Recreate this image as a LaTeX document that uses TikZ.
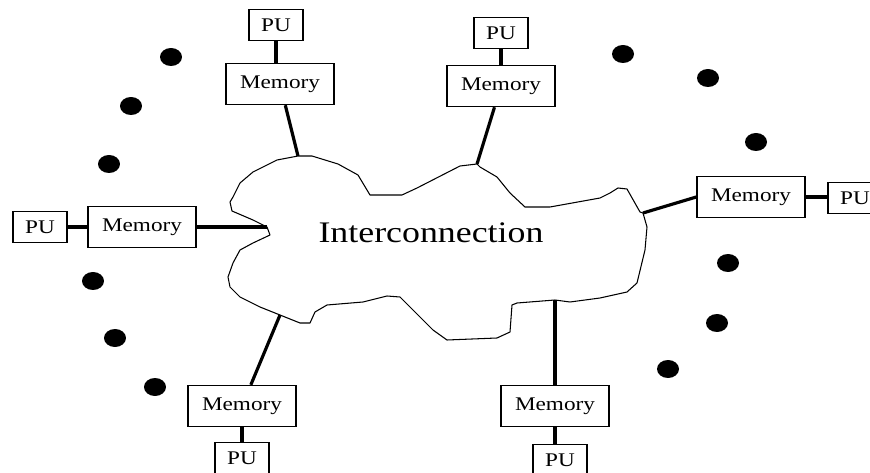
\documentclass[tikz,border=0pt]{standalone}
\usepackage{fontspec}
\setmainfont{Liberation Serif}[FakeStretch=1.2]
\tikzset{
	membox/.style={draw, line width=0.8pt, minimum width=2.16cm, minimum height=0.82cm, inner sep=0pt, font=\fontsize{11}{13}\selectfont},
	pubox/.style={draw, line width=0.8pt, minimum width=1.08cm, minimum height=0.62cm, inner sep=0pt, font=\fontsize{11}{13}\selectfont},
	link/.style={line width=1.8pt},
	cloudline/.style={line width=0.6pt, line join=round},
	blob/.style={fill=black}
}

\begin{document}
\begin{tikzpicture}[x=0.02cm, y=-0.02cm]
			%%%%% START %%%%%
			\useasboundingbox (0,0) rectangle (870,473);
			
			% interconnection cloud
			\draw[cloudline] (298,156) coordinate (ca) -- (312,156) -- (338,164) -- (358,175) -- (370,195)
				-- (402,195) -- (417,188) -- (460,166) -- (477,164) coordinate (cb) -- (480,167) -- (497,177)
				-- (510,193) -- (525,207) -- (550,207) -- (600,198) -- (610,193) -- (618,188) -- (627,189)
				-- (640,212) -- (643,213) coordinate (cd) -- (647,227) -- (645,250) -- (637,283) -- (627,292)
				-- (600,298) -- (570,302) -- (555,300) coordinate (cf) -- (517,303) -- (512,305) -- (510,332)
				-- (497,338) -- (447,340) -- (433,330) -- (413,310) -- (400,297) -- (387,296) -- (363,302)
				-- (327,305) -- (315,312) -- (310,323) -- (300,323) -- (280,315) coordinate (ce) -- (260,307)
				-- (240,297) -- (230,287) -- (228,277) -- (233,263) -- (240,250) -- (253,243) -- (270,235)
				-- (267,227) coordinate (cc) -- (253,220) -- (232,211) -- (230,202) -- (233,197) -- (240,183)
				-- (253,172) -- (277,160) -- cycle;
			\node[anchor=base, font=\fontsize{17}{20}\selectfont] (net) at (431,243) {Interconnection};
			
			% dots
			\foreach \x/\y in {171/57, 131/106, 109/164, 93/281, 115/338, 155/387,
				623/54, 708/78, 756/142, 728/263, 717/323, 668/369}
				\fill[blob] (\x,\y) ellipse [x radius=0.22cm, y radius=0.18cm];
			
			% memories and PUs
			\node[pubox] (pua) at (276,25) {PU};
			\node[membox] (mema) at (280,84) {Memory};
			\node[pubox] (pub) at (501,33) {PU};
			\node[membox] (memb) at (501,86) {Memory};
			\node[pubox] (puc) at (40,227) {PU};
			\node[membox] (memc) at (142,227) {Memory};
			\node[membox] (memd) at (751,197) {Memory};
			\node[pubox] (pud) at (855,198) {PU};
			\node[membox] (meme) at (242,406) {Memory};
			\node[pubox] (pue) at (242,458) {PU};
			\node[membox] (memf) at (555,406) {Memory};
			\node[pubox] (puf) at (560,460) {PU};
			
			% links
			\draw[link] (pua.south) -- (pua.south |- mema.north);
			\draw[link] (mema) -- (ca);
			\draw[link] (pub.south) -- (pub.south |- memb.north);
			\draw[link] (memb) -- (cb);
			\draw[link] (puc) -- (memc);
			\draw[link] (memc) -- (cc);
			\draw[link] (memd.west) -- (cd);
			\draw[link] (memd.east) -- (memd.east -| pud.west);
			\draw[link] (meme) -- (ce);
			\draw[link] (meme.south) -- (meme.south |- pue.north);
			\draw[link] (memf) -- (cf);
			\draw[link] (memf.south) -- (memf.south |- puf.north);
			
			%%%%% END %%%%%
\end{tikzpicture}
\end{document}
